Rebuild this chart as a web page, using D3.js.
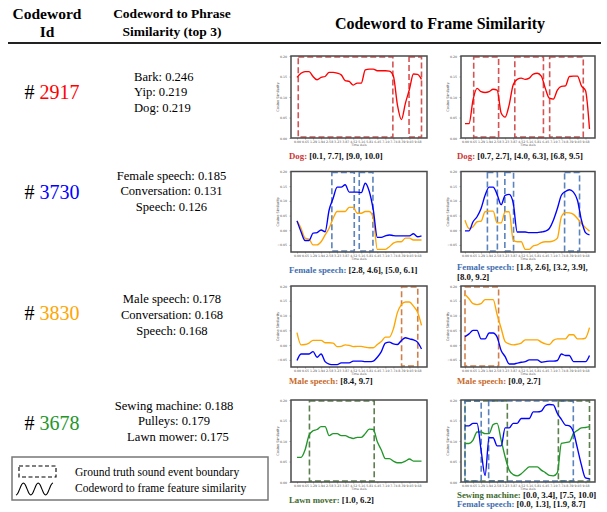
<!DOCTYPE html>
<html>
<head>
<meta charset="utf-8">
<script src="https://cdn.jsdelivr.net/npm/d3@7"></script>
<style>
  body { margin: 0; background: #fff; }
  svg { display: block; }
</style>
</head>
<body>
<div id="fig"></div>
<script>
// ---- data ----
var codewordIds = ["2917", "3730", "3830", "3678"];
var phraseNames = [["Bark", "Yip", "Dog"],
                   ["Female speech", "Conversation", "Speech"],
                   ["Male speech", "Conversation", "Speech"],
                   ["Sewing machine", "Pulleys", "Lawn mower"]];
var phraseScores = [[0.246, 0.219, 0.219],
                    [0.185, 0.131, 0.126],
                    [0.178, 0.168, 0.168],
                    [0.188, 0.179, 0.175]];

// 32 frames over a 10 s clip
var frameTimes = d3.range(32).map(function(i) { return i * 10 / 31; });
var xTickTimes = d3.range(16).map(function(i) { return frameTimes[i * 2]; });
var ticks5 = [0, 0.05, 0.10, 0.15, 0.20];
var ticks6 = [-0.05, 0, 0.05, 0.10, 0.15, 0.20];

var dogA_2917 = [0.148,0.158,0.162,0.162,0.150,0.142,0.148,0.150,0.160,0.160,0.158,0.154,0.140,0.138,0.129,0.134,0.134,0.166,0.168,0.168,0.164,0.164,0.164,0.163,0.151,0.081,0.045,0.085,0.119,0.156,0.155,0.143];
var dogB_2917 = [0.035,0.035,0.093,0.121,0.113,0.111,0.113,0.119,0.117,0.061,0.051,0.081,0.130,0.143,0.146,0.143,0.146,0.156,0.158,0.151,0.121,0.097,0.095,0.117,0.126,0.127,0.150,0.151,0.151,0.127,0.116,0.022];
var femaleA_3730 = [0.032,-0.005,-0.035,-0.035,-0.010,-0.008,0.001,-0.005,0.069,0.109,0.147,0.147,0.155,0.130,0.130,0.130,0.128,0.160,0.132,0.069,-0.024,-0.024,-0.019,-0.016,-0.018,-0.019,-0.019,-0.019,-0.019,-0.012,-0.022,-0.019];
var femaleA_3830 = [0.032,0.007,-0.027,-0.030,-0.050,-0.050,-0.039,-0.016,0.007,0.041,0.064,0.064,0.064,0.078,0.078,0.058,0.058,0.064,0.064,0.041,-0.065,-0.065,-0.065,-0.056,-0.044,-0.039,-0.039,-0.027,-0.027,-0.033,-0.033,-0.033];
var femaleB_3730 = [-0.002,-0.002,0.029,0.046,0.074,0.119,0.147,0.147,0.122,0.087,0.119,0.122,0.093,-0.006,-0.006,-0.006,-0.008,-0.008,-0.008,-0.006,-0.003,0.006,0.034,0.074,0.119,0.132,0.138,0.130,0.102,0.034,-0.008,-0.016];
var femaleB_3830 = [0.034,0.006,0.012,0.029,0.031,0.063,0.065,0.065,0.025,0.025,0.063,0.063,-0.033,-0.039,-0.039,-0.065,-0.065,-0.053,-0.050,-0.042,-0.039,-0.039,-0.036,-0.027,0.046,0.060,0.059,0.054,0.040,0.023,0.009,-0.003];
var maleA_3830 = [0.042,0.001,0.002,0.007,0.016,0.016,0.016,0.008,0.008,0.007,-0.005,-0.004,0.001,-0.001,-0.005,-0.004,-0.004,-0.007,-0.009,-0.009,0.002,0.012,0.027,0.027,0.055,0.110,0.137,0.146,0.146,0.132,0.112,0.067];
var maleA_3730 = [-0.052,-0.030,-0.030,-0.030,-0.022,-0.041,-0.030,-0.056,-0.064,-0.066,-0.066,-0.060,-0.060,-0.060,-0.054,-0.054,-0.054,-0.056,-0.056,-0.054,-0.041,-0.022,0.007,0.010,0.004,0.002,0.016,0.025,0.021,0.018,0.010,-0.013];
var maleB_3830 = [0.171,0.157,0.140,0.137,0.140,0.154,0.154,0.154,0.103,0.057,0.012,0.004,0.001,0.003,0.007,0.018,0.018,0.018,0.018,0.010,0.004,0.002,0.016,0.021,0.021,0.021,0.035,0.035,0.021,0.021,0.024,0.059];
var maleB_3730 = [0.029,0.038,0.050,0.050,0.021,0.021,0.041,0.041,0.027,-0.018,-0.039,-0.064,-0.064,-0.061,-0.058,-0.056,-0.050,-0.050,-0.050,-0.058,-0.056,-0.054,-0.054,-0.052,-0.030,-0.035,-0.035,-0.056,-0.056,-0.056,-0.056,-0.035];
var lawn_3678 = [0.060,0.060,0.078,0.114,0.125,0.128,0.135,0.135,0.113,0.118,0.118,0.113,0.113,0.109,0.106,0.109,0.109,0.118,0.129,0.128,0.098,0.078,0.057,0.057,0.051,0.047,0.047,0.051,0.056,0.051,0.051,0.051];
var sewing_3730 = [0.137,0.137,0.143,0.143,0.078,0.016,0.108,0.108,0.088,0.088,0.132,0.132,0.143,0.143,0.155,0.155,0.155,0.171,0.171,0.173,0.186,0.189,0.188,0.167,0.153,0.139,0.137,0.122,0.082,0.041,0.010,0.008];
var sewing_3678 = [0.094,0.094,0.102,0.122,0.122,0.118,0.118,0.140,0.143,0.102,0.061,0.029,0.018,0.015,0.020,0.029,0.037,0.037,0.037,0.029,0.023,0.016,0.015,0.023,0.094,0.096,0.098,0.118,0.126,0.132,0.133,0.135];

// ground truth event boundaries (seconds)
var dogBoundsA = [[0.1, 7.7], [9.0, 10.0]];
var dogBoundsB = [[0.7, 2.7], [4.0, 6.3], [6.8, 9.5]];
var femaleBoundsA = [[2.8, 4.6], [5.0, 6.1]];
var femaleBoundsB = [[1.8, 2.6], [3.2, 3.9], [8.0, 9.2]];
var maleBoundsA = [[8.4, 9.7]];
var maleBoundsB = [[0.0, 2.7]];
var lawnBounds = [[1.0, 6.2]];
var sewingBounds = [[0.0, 3.4], [7.5, 10.0]];
var femaleBoundsC = [[0.0, 1.3], [1.9, 8.7]];

// ---- styling ----
var serif = "'Liberation Serif', 'Times New Roman', serif",
    sans = "'DejaVu Sans', sans-serif",
    cwColor = {"2917": "#ff0000", "3730": "#0000ff", "3830": "#ffa500", "3678": "#22962a"},
    boxColor = {dog: "#cc3535", female: "#3e6db0", male: "#c8692a", lawn: "#3f6a2e"};

var rowTop = [56, 171.5, 286, 400],
    rowBottom = [138, 252, 367, 482],
    colFrame = [[291, 427], [461, 595]],
    colLine = [[297, 421.5], [465, 589.5]],
    capX = [289, 457];

var panels = [
  {row: 0, col: 0, lines: [[dogA_2917, "2917"]], domain: [0, 0.2], ticks: ticks5,
   events: [{name: "Dog", bounds: dogBoundsA, color: boxColor.dog}], labelY: [159]},
  {row: 0, col: 1, lines: [[dogB_2917, "2917"]], domain: [0, 0.2], ticks: ticks5,
   events: [{name: "Dog", bounds: dogBoundsB, color: boxColor.dog}], labelY: [159]},
  {row: 1, col: 0, lines: [[femaleA_3830, "3830"], [femaleA_3730, "3730"]], domain: [-0.074, 0.2], ticks: ticks6,
   events: [{name: "Female speech", bounds: femaleBoundsA, color: boxColor.female}], labelY: [273]},
  {row: 1, col: 1, lines: [[femaleB_3830, "3830"], [femaleB_3730, "3730"]], domain: [-0.074, 0.2], ticks: ticks6,
   events: [{name: "Female speech", bounds: femaleBoundsB, color: boxColor.female, wrap: 2}], labelY: [269.5, 279.5]},
  {row: 2, col: 0, lines: [[maleA_3830, "3830"], [maleA_3730, "3730"]], domain: [-0.074, 0.2], ticks: ticks6,
   events: [{name: "Male speech", bounds: maleBoundsA, color: boxColor.male}], labelY: [384]},
  {row: 2, col: 1, lines: [[maleB_3830, "3830"], [maleB_3730, "3730"]], domain: [-0.074, 0.2], ticks: ticks6,
   events: [{name: "Male speech", bounds: maleBoundsB, color: boxColor.male}], labelY: [384]},
  {row: 3, col: 0, lines: [[lawn_3678, "3678"]], domain: [0, 0.2], ticks: ticks5,
   events: [{name: "Lawn mover", bounds: lawnBounds, color: boxColor.lawn}], labelY: [503]},
  {row: 3, col: 1, lines: [[sewing_3678, "3678"], [sewing_3730, "3730"]], domain: [0, 0.2], ticks: ticks5,
   events: [{name: "Sewing machine", bounds: sewingBounds, color: boxColor.lawn},
            {name: "Female speech", bounds: femaleBoundsC, color: boxColor.female}], labelY: [498, 507]}
];

var svg = d3.select("#fig").append("svg")
  .attr("width", 607)
  .attr("height", 512)
  .style("background", "#fff");

// ---- header ----
var header = svg.append("g").attr("font-family", serif).attr("font-weight", "bold").attr("text-anchor", "middle");
header.append("text").attr("x", 47).attr("y", 19).attr("font-size", 15.5).text("Codeword");
header.append("text").attr("x", 47).attr("y", 37).attr("font-size", 15.5).text("Id");
header.append("text").attr("x", 172).attr("y", 18).attr("font-size", 13.5).text("Codeword to Phrase");
header.append("text").attr("x", 172).attr("y", 36).attr("font-size", 13.5).text("Similarity (top 3)");
header.append("text").attr("x", 440).attr("y", 29).attr("font-size", 16).text("Codeword to Frame Similarity");
svg.append("line")
  .attr("x1", 8).attr("x2", 601).attr("y1", 43).attr("y2", 43)
  .attr("stroke", "#222").attr("stroke-width", 2);

// ---- id + phrase columns ----
var idCenter = [92, 192, 313, 423],
    phraseCenter = [92, 191, 314.5, 421],
    phraseX = [[134, 134, 134], [171.5, 171.5, 171.5], [172, 172, 172], [174, 174, 178]],
    phraseAnchor = ["start", "middle", "middle", "middle"];

codewordIds.forEach(function(id, r) {
  var t = svg.append("text")
    .attr("x", 52).attr("y", idCenter[r] + 7)
    .attr("text-anchor", "middle")
    .attr("font-family", serif).attr("font-size", 20);
  t.append("tspan").attr("fill", "#000").text("# ");
  t.append("tspan").attr("fill", cwColor[id]).text(id);

  phraseNames[r].forEach(function(p, k) {
    svg.append("text")
      .attr("x", phraseX[r][k]).attr("y", phraseCenter[r] - 16 + k * 15.8 + 4.5)
      .attr("text-anchor", phraseAnchor[r])
      .attr("font-family", serif).attr("font-size", 12.6)
      .text(p + ": " + phraseScores[r][k].toFixed(3));
  });
});

// ---- panels ----
var fmt2 = d3.format(".2f");

panels.forEach(function(p) {
  var top = rowTop[p.row], bottom = rowBottom[p.row],
      fx = colFrame[p.col],
      xScale = d3.scaleLinear().domain([0, 10]).range(colLine[p.col]),
      yScale = d3.scaleLinear().domain(p.domain).range([bottom, top]);

  var g = svg.append("g");

  // y axis
  var yAxis = g.append("g")
    .attr("transform", "translate(" + fx[0] + ",0)")
    .call(d3.axisLeft(yScale).tickValues(p.ticks).tickSize(1.5).tickFormat(fmt2));
  yAxis.select(".domain").remove();
  yAxis.selectAll("text").attr("font-size", 3.2).attr("font-family", sans).attr("fill", "#555").attr("dx", "0.6");
  yAxis.selectAll("line").attr("stroke", "#555").attr("stroke-width", 0.5);

  // x axis
  var xAxis = g.append("g")
    .attr("transform", "translate(0," + bottom + ")")
    .call(d3.axisBottom(xScale).tickValues(xTickTimes).tickSize(1.5).tickFormat(fmt2));
  xAxis.select(".domain").remove();
  xAxis.selectAll("text").attr("font-size", 3.2).attr("font-family", sans).attr("fill", "#555").attr("y", 2.5).attr("dy", "0.71em");
  xAxis.selectAll("line").attr("stroke", "#555").attr("stroke-width", 0.5);

  g.append("text")
    .attr("x", (fx[0] + fx[1]) / 2).attr("y", bottom + 7.6)
    .attr("text-anchor", "middle")
    .attr("font-family", sans).attr("font-size", 3.2).attr("fill", "#555")
    .text("Time Axis");

  g.append("text")
    .attr("transform", "translate(" + (fx[0] - 12) + "," + ((top + bottom) / 2) + ") rotate(-90)")
    .attr("text-anchor", "middle")
    .attr("font-family", sans).attr("font-size", 3.5).attr("fill", "#555")
    .text("Cosine Similarity");

  // event boxes
  p.events.forEach(function(ev) {
    g.append("g").selectAll("rect")
      .data(ev.bounds)
      .enter().append("rect")
        .attr("x", function(d) { return xScale(d[0]); })
        .attr("width", function(d) { return xScale(d[1]) - xScale(d[0]); })
        .attr("y", top + 1)
        .attr("height", bottom - top - 2)
        .attr("fill", "none")
        .attr("stroke", ev.color)
        .attr("stroke-opacity", 0.85)
        .attr("stroke-width", 1.6)
        .attr("stroke-dasharray", "6,3");
  });

  // similarity lines
  var line = d3.line()
    .x(function(d, i) { return xScale(frameTimes[i]); })
    .y(function(d) { return yScale(d); })
    .curve(d3.curveMonotoneX);

  p.lines.forEach(function(l) {
    g.append("path")
      .datum(l[0])
      .attr("d", line)
      .attr("fill", "none")
      .attr("stroke", cwColor[l[1]])
      .attr("stroke-width", 1.35);
  });

  // frame
  g.append("rect")
    .attr("x", fx[0]).attr("y", top)
    .attr("width", fx[1] - fx[0]).attr("height", bottom - top)
    .attr("fill", "none")
    .attr("stroke", "#4a4a4a")
    .attr("stroke-width", 1.5);

  // caption under the panel
  var lineIdx = 0;
  p.events.forEach(function(ev) {
    var parts = ev.bounds.map(function(b) { return "[" + b[0].toFixed(1) + ", " + b[1].toFixed(1) + "]"; });
    var chunks = ev.wrap ? [parts.slice(0, ev.wrap).join(", ") + ",", parts.slice(ev.wrap).join(", ")] : [parts.join(", ")];
    chunks.forEach(function(c, k) {
      var t = g.append("text")
        .attr("x", capX[p.col]).attr("y", p.labelY[lineIdx])
        .attr("font-family", serif).attr("font-weight", "bold").attr("font-size", 8.8);
      if (k == 0) t.append("tspan").attr("fill", ev.color).text(ev.name + ": ");
      t.append("tspan").attr("fill", "#111").text(c);
      lineIdx++;
    });
  });
});

// ---- legend ----
var lg = svg.append("g");
lg.append("rect")
  .attr("x", 12).attr("y", 457).attr("width", 256).attr("height", 43)
  .attr("fill", "#fff").attr("stroke", "#777").attr("stroke-width", 1.5);
lg.append("rect")
  .attr("x", 19).attr("y", 466).attr("width", 37).attr("height", 11)
  .attr("fill", "none").attr("stroke", "#000").attr("stroke-width", 1.1)
  .attr("stroke-dasharray", "4,2.5");
var wave = d3.range(0, 1.001, 0.02).map(function(t) {
  return [16 + t * 37, 489 + 6 * Math.cos(t * 5 * Math.PI)];
});
lg.append("path")
  .attr("d", d3.line().curve(d3.curveBasis)(wave))
  .attr("fill", "none").attr("stroke", "#000").attr("stroke-width", 1.1);
lg.append("text").attr("x", 75).attr("y", 475.5)
  .attr("font-family", serif).attr("font-size", 11.5).text("Ground truth sound event boundary");
lg.append("text").attr("x", 75).attr("y", 492)
  .attr("font-family", serif).attr("font-size", 11.5).text("Codeword to frame feature similarity");
</script>
</body>
</html>
